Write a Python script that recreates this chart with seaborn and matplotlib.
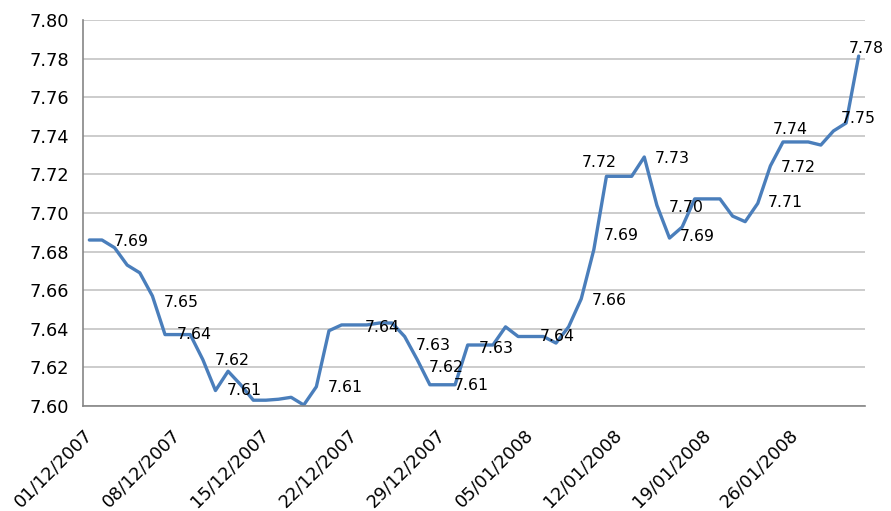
import pandas as pd
import matplotlib.pyplot as plt
import matplotlib.dates as mdates
import seaborn as sns

# daily rate, 01/12/2007 .. 31/01/2008
dates = pd.date_range("2007-12-01", "2008-01-31", freq="D")
rates = [
    7.686, 7.686, 7.682, 7.673, 7.669, 7.657, 7.637, 7.637, 7.637, 7.624,
    7.608, 7.618, 7.611, 7.603, 7.603, 7.6035, 7.6045, 7.6005, 7.610, 7.639,
    7.642, 7.642, 7.642, 7.643, 7.643, 7.636, 7.624, 7.611, 7.611, 7.611,
    7.6316, 7.6316, 7.6316, 7.641, 7.636, 7.636, 7.636, 7.6326, 7.641, 7.6555,
    7.681, 7.719, 7.719, 7.719, 7.729, 7.704, 7.687, 7.6927, 7.7073, 7.7073,
    7.7073, 7.6984, 7.6955, 7.705, 7.7244, 7.7368, 7.7368, 7.7368, 7.7352, 7.7425,
    7.7466, 7.7813,
]

# data labels as they sit on the chart
label_text = ["7.69", "7.65", "7.64", "7.62", "7.61", "7.61", "7.64", "7.63",
              "7.62", "7.61", "7.63", "7.64", "7.66", "7.72", "7.69", "7.73",
              "7.70", "7.69", "7.71", "7.72", "7.74", "7.75", "7.78"]
label_day = [3.8, 7.8, 8.8, 11.8, 12.75, 20.8, 23.7, 27.8,
             28.8, 30.75, 32.8, 37.6, 41.7, 40.9, 42.7, 46.7,
             47.8, 48.7, 55.7, 56.7, 56.1, 61.5, 62.1]
label_val = [7.685, 7.6534, 7.6368, 7.6238, 7.6078, 7.6098, 7.6409, 7.6316,
             7.6202, 7.6104, 7.630, 7.6358, 7.6549, 7.7259, 7.6881, 7.728,
             7.7026, 7.6876, 7.7052, 7.7238, 7.7435, 7.7487, 7.785]

tick_dates = ["2007-12-01", "2007-12-08", "2007-12-15", "2007-12-22", "2007-12-29",
              "2008-01-05", "2008-01-12", "2008-01-19", "2008-01-26"]

df = pd.DataFrame({"date": dates + pd.Timedelta(hours=12), "rate": rates})

sns.set_style("white")
plt.rcParams["font.family"] = ["DejaVu Sans"]

fig = plt.figure(figsize=(8.91, 5.11), dpi=100)
ax = fig.add_axes([0.0932, 0.2055, 0.8776, 0.7554])

ax.yaxis.grid(True, color="#bebebe", linewidth=1.1)
ax.set_axisbelow(True)

sns.lineplot(data=df, x="date", y="rate", ax=ax, color="#4a7ebb", linewidth=2.4)

start = dates[0]
for t, d, v in zip(label_text, label_day, label_val):
    ax.text(start + pd.Timedelta(days=d), v, t, ha="center", va="center",
            fontsize=11.3, color="black", clip_on=False)

ax.set_xlim(dates[0], dates[-1] + pd.Timedelta(days=1))
ax.set_ylim(7.60, 7.80)
ax.set_yticks([7.60 + 0.02 * i for i in range(11)])
ax.yaxis.set_major_formatter(plt.FormatStrFormatter("%.2f"))
ax.set_xticks(pd.to_datetime(tick_dates))
ax.xaxis.set_major_formatter(mdates.DateFormatter("%d/%m/%Y"))

for lab in ax.get_xticklabels():
    lab.set_rotation(45)
    lab.set_ha("right")
    lab.set_rotation_mode("anchor")

ax.tick_params(axis="both", direction="out", length=6, width=1, color="#868686",
               labelsize=12.8, labelcolor="black")
ax.tick_params(axis="x", pad=8)
ax.tick_params(axis="y", pad=4)

for side in ["top", "right"]:
    ax.spines[side].set_visible(False)
for side in ["left", "bottom"]:
    ax.spines[side].set_color("#868686")
    ax.spines[side].set_linewidth(1.2)

ax.set_xlabel("")
ax.set_ylabel("")

fig.savefig("out.png", dpi=100)
